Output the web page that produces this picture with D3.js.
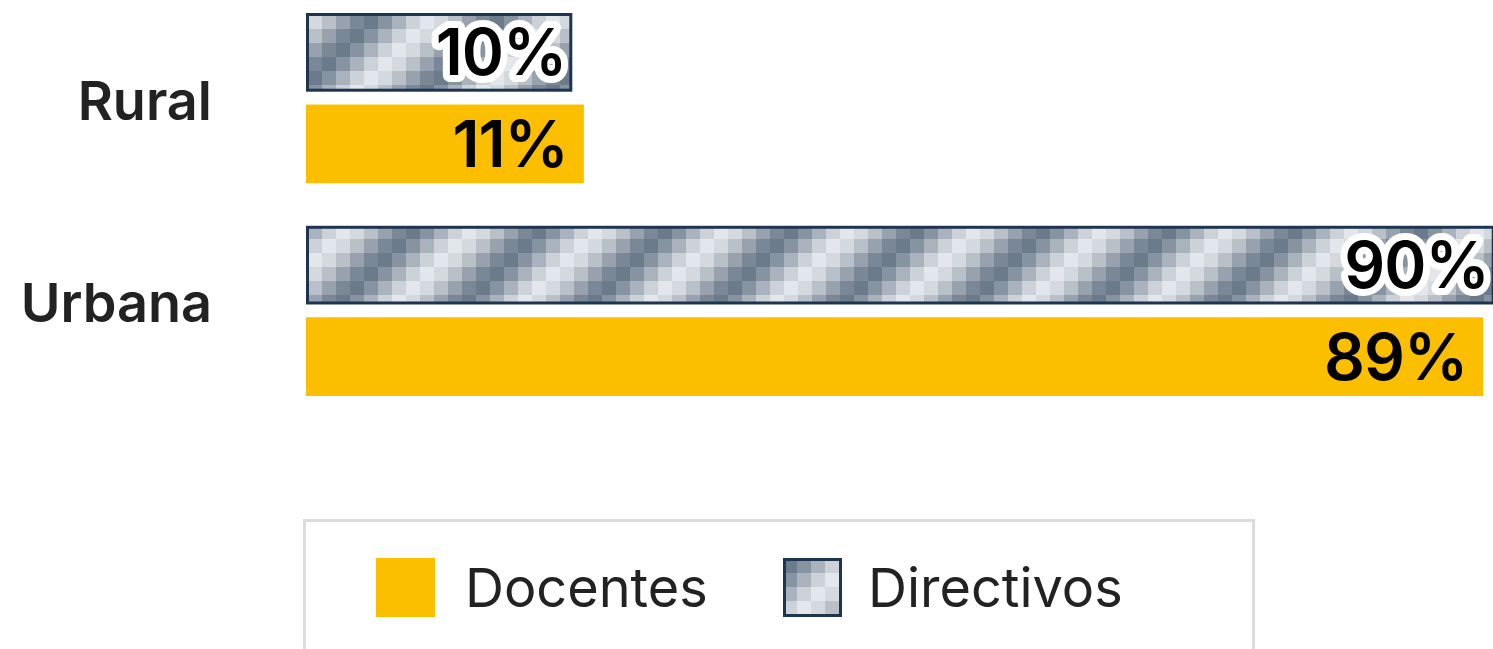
<!doctype html>
<html lang="es">
<head>
<meta charset="UTF-8">
<title>Docentes y directivos por zona</title>
<script src="https://cdn.jsdelivr.net/npm/d3@7"></script>
<style>
  body { margin: 0; background: #fff; }
  svg { display: block; font-family: Inter, "Open Sans", sans-serif; }
</style>
</head>
<body>
<div id="chart"></div>
<script>
// data
const zonas = ['Rural', 'Urbana']
const series = ['Directivos', 'Docentes']
const directivos = [10, 90]
const docentes = [11, 89]

const W = 1493, H = 649
const navy = '#1e3450'
const gold = '#fbbf00'
// grey shades used for the pixel pattern of "Directivos"
const shades = ['#e3e7eb', '#d4d9de', '#b9c0c8', '#97a2ae', '#7a8797', '#6c7b8c', '#8693a1', '#aab3bd', '#cdd2d8']

const svg = d3.select('#chart').append('svg')
    .attr('width', W)
    .attr('height', H)

// pattern
const cell = 14
const pat = svg.append('defs').append('pattern')
    .attr('id', 'pix')
    .attr('patternUnits', 'userSpaceOnUse')
    .attr('x', 308).attr('y', 1)
    .attr('width', cell * shades.length)
    .attr('height', cell * shades.length)
const cells = []
for (let r = 0; r < shades.length; r++) {
    for (let c = 0; c < shades.length; c++) cells.push({r, c})
}
pat.selectAll('rect').data(cells).enter().append('rect')
    .attr('x', d => d.c * cell)
    .attr('y', d => d.r * cell)
    .attr('width', cell)
    .attr('height', cell)
    .attr('fill', d => shades[(d.r + d.c) % shades.length])

const x0 = 306
const x = d3.scaleLinear().domain([0, 100]).range([151, 1304])

const y = d3.scaleBand().domain(zonas).range([13, 396]).paddingInner(0.2)
const ySub = d3.scaleBand().domain(series).range([0, y.bandwidth()]).paddingInner(0.14)

const rows = []
zonas.forEach((z, i) => {
    rows.push({zona: z, serie: 'Directivos', v: directivos[i]})
    rows.push({zona: z, serie: 'Docentes', v: docentes[i]})
})

// category labels
svg.append('g').selectAll('text').data(zonas).enter().append('text')
    .attr('x', 212)
    .attr('y', d => y(d) + y.bandwidth() / 2 - (d === 'Urbana' ? 8 : -2))
    .attr('dy', '0.36em')
    .attr('text-anchor', 'end')
    .attr('font-size', 54)
    .attr('font-weight', 600)
    .attr('fill', '#222')
    .text(d => d)

const bars = svg.append('g')
bars.selectAll('rect').data(rows).enter().append('rect')
    .attr('x', d => d.serie === 'Directivos' ? x0 + 1.5 : x0)
    .attr('y', d => y(d.zona) + ySub(d.serie) + (d.serie === 'Directivos' ? 1.5 : 0))
    .attr('width', d => x(d.v) - (d.serie === 'Directivos' ? 3 : 0))
    .attr('height', d => ySub.bandwidth() - (d.serie === 'Directivos' ? 3 : 0))
    .attr('fill', d => d.serie === 'Directivos' ? 'url(#pix)' : gold)
    .attr('stroke', d => d.serie === 'Directivos' ? navy : 'none')
    .attr('stroke-width', 3)

// value labels
bars.selectAll('text').data(rows).enter().append('text')
    .attr('x', d => x0 + x(d.v) - (d.serie === 'Directivos' ? 6 : 16))
    .attr('y', d => y(d.zona) + ySub(d.serie) + ySub.bandwidth() / 2)
    .attr('dy', '0.36em')
    .attr('text-anchor', 'end')
    .attr('font-size', 64)
    .attr('font-weight', 600)
    .attr('letter-spacing', -1)
    .attr('fill', '#000')
    .attr('stroke', d => d.serie === 'Directivos' ? '#fff' : 'none')
    .attr('stroke-width', 14)
    .attr('stroke-linejoin', 'round')
    .attr('paint-order', 'stroke')
    .text(d => d.v + '%')

// legend
const lg = svg.append('g')
lg.append('rect')
    .attr('x', 304.5).attr('y', 520.5)
    .attr('width', 949).attr('height', 200)
    .attr('fill', 'none')
    .attr('stroke', '#dcdcdc')
    .attr('stroke-width', 3)

const legendItems = [
    {name: 'Docentes', x: 376},
    {name: 'Directivos', x: 783}
]
legendItems.forEach(it => {
    const g = lg.append('g').attr('transform', `translate(${it.x},558)`)
    if (it.name === 'Directivos') {
        g.append('rect')
            .attr('x', 1.5).attr('y', 1.5)
            .attr('width', 56).attr('height', 56)
            .attr('fill', 'url(#pix)')
            .attr('stroke', navy)
            .attr('stroke-width', 3)
    } else {
        g.append('rect')
            .attr('width', 59).attr('height', 59)
            .attr('fill', gold)
    }
    g.append('text')
        .attr('x', it.name === 'Docentes' ? 89 : 85)
        .attr('y', 29.5)
        .attr('dy', '0.36em')
        .attr('font-size', 54)
        .attr('font-weight', 400)
        .attr('fill', '#222')
        .text(it.name)
})
</script>
</body>
</html>
